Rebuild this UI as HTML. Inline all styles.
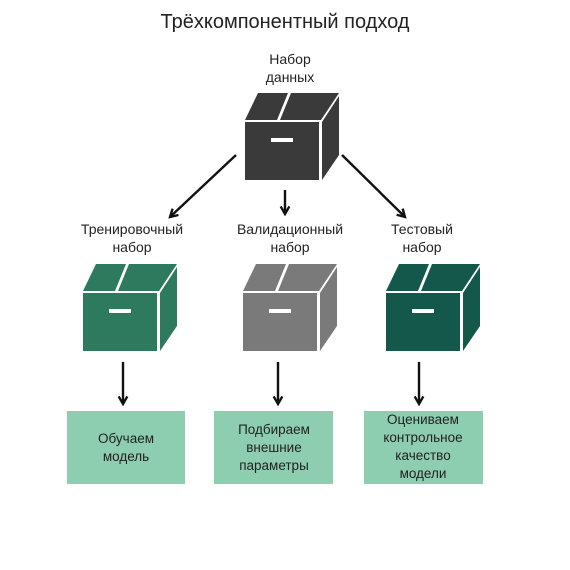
<!DOCTYPE html>
<html><head><meta charset="utf-8"><style>
body{margin:0;background:#fff;width:570px;height:570px;overflow:hidden}
svg{display:block}
text{font-family:"Liberation Sans","DejaVu Sans",sans-serif;fill:#222}
</style></head><body>
<svg width="570" height="570" viewBox="0 0 570 570">
<defs>
<g id="box">
  <rect x="0" y="0" width="74" height="58"/>
  <polygon points="0,-2 13,-29 43,-29 32,-2"/>
  <polygon points="35,-2 46,-29 94,-29 76,-2"/>
  <polygon points="77,0 94,-26 94,33 77,58"/>
  <rect x="26" y="16" width="22" height="4" fill="#fff"/>
</g>
<marker id="ah" viewBox="0 0 10 10" refX="8" refY="5" markerWidth="4.5" markerHeight="4.5" orient="auto"><path d="M1,1 L8,5 L1,9" fill="none" stroke="#111" stroke-width="2.2"/></marker>
</defs>
<text x="285" y="28" font-size="20" text-anchor="middle">Трёхкомпонентный подход</text>
<text x="290" y="64" font-size="14" text-anchor="middle">Набор</text>
<text x="290" y="82" font-size="14" text-anchor="middle">данных</text>
<use href="#box" x="245" y="122" fill="#3a3a3a"/>
<use href="#box" x="83" y="293" fill="#2e7a5e"/>
<use href="#box" x="243" y="293" fill="#7a7a7a"/>
<use href="#box" x="386" y="293" fill="#14574b"/>
<g stroke="#111" stroke-width="2.4" marker-end="url(#ah)">
<line x1="236" y1="155" x2="170" y2="217"/>
<line x1="285" y1="190" x2="285" y2="214"/>
<line x1="342" y1="155" x2="405" y2="217"/>
<line x1="123" y1="362" x2="123" y2="404"/>
<line x1="278" y1="362" x2="278" y2="404"/>
<line x1="419" y1="362" x2="419" y2="404"/>
</g>
<g font-size="14" text-anchor="middle">
<text x="132" y="234">Тренировочный</text><text x="132" y="252">набор</text>
<text x="290" y="234">Валидационный</text><text x="290" y="252">набор</text>
<text x="422" y="234">Тестовый</text><text x="422" y="252">набор</text>
</g>
<g fill="#8dcdb0">
<rect x="67" y="411" width="118" height="73"/>
<rect x="214" y="411" width="119" height="73"/>
<rect x="364" y="411" width="119" height="73"/>
</g>
<g font-size="13.5" text-anchor="middle">
<text x="126" y="443">Обучаем</text><text x="126" y="461">модель</text>
<text x="274" y="434">Подбираем</text><text x="274" y="452">внешние</text><text x="274" y="470">параметры</text>
<text x="423" y="424">Оцениваем</text><text x="423" y="442">контрольное</text><text x="423" y="460">качество</text><text x="423" y="478">модели</text>
</g>
</svg>
</body></html>
